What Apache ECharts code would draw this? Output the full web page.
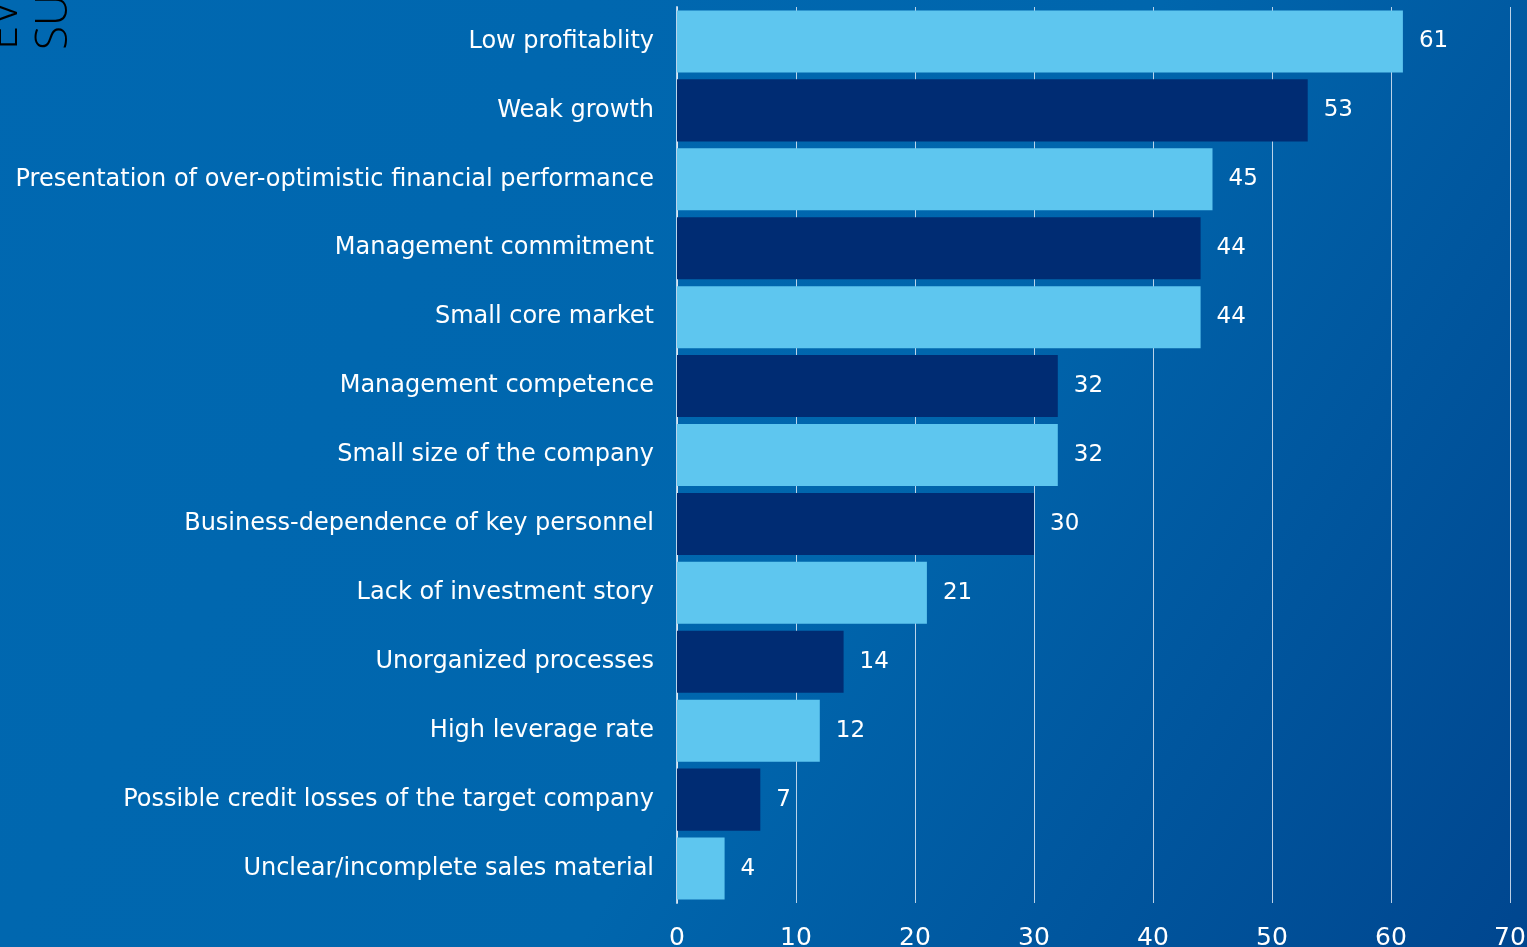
<!DOCTYPE html>
<html>
<head>
<meta charset="utf-8">
<title>Reasons</title>
<script src="https://cdn.jsdelivr.net/npm/echarts@6/dist/echarts.min.js"></script>
<style>
  html, body { margin: 0; padding: 0; }
  #main { width: 1527px; height: 947px; }
</style>
</head>
<body>
<div id="main"></div>
<script>
// categories, top to bottom
var categories = [
  'Low profitablity',
  'Weak growth',
  'Presentation of over-optimistic financial performance',
  'Management commitment',
  'Small core market',
  'Management competence',
  'Small size of the company',
  'Business-dependence of key personnel',
  'Lack of investment story',
  'Unorganized processes',
  'High leverage rate',
  'Possible credit losses of the target company',
  'Unclear/incomplete sales material'
];
var values = [61, 53, 45, 44, 44, 32, 32, 30, 21, 14, 12, 7, 4];
var xTicks = [0, 10, 20, 30, 40, 50, 60, 70];

var light = '#5ec6ef';
var dark = '#002c73';

var chart = echarts.init(document.getElementById('main'));
chart.setOption({
  backgroundColor: {
    type: 'linear', x: 0, y: 0, x2: 1, y2: 1,
    colorStops: [
      { offset: 0, color: '#0068b1' },
      { offset: 0.55, color: '#0066ad' },
      { offset: 1, color: '#00468f' }
    ]
  },
  animation: false,
  textStyle: { fontFamily: 'DejaVu Sans' },
  grid: { left: 677, right: 17, top: 7, bottom: 44, outerBoundsMode: 'none', containLabel: false },
  xAxis: {
    type: 'value',
    min: xTicks[0],
    max: xTicks[xTicks.length - 1],
    interval: 10,
    axisLine: { show: false },
    axisTick: { show: false },
    splitLine: { show: true, lineStyle: { color: 'rgba(220,232,245,0.85)', width: 1 } },
    axisLabel: { color: '#ffffff', fontSize: 25, margin: 23 }
  },
  yAxis: {
    type: 'category',
    inverse: true,
    data: categories,
    axisLine: { show: true, lineStyle: { color: 'rgba(220,232,245,0.85)', width: 2 } },
    axisTick: { show: false },
    axisLabel: { color: '#ffffff', fontSize: 24, margin: 23, padding: [2, 0, 0, 0] }
  },
  series: [{
    type: 'bar',
    data: values,
    barCategoryGap: '10%',
    itemStyle: {
      color: function (p) { return p.dataIndex % 2 === 0 ? light : dark; }
    },
    label: {
      show: true,
      position: 'right',
      distance: 16,
      color: '#ffffff',
      fontSize: 23,
      padding: [2, 0, 0, 0]
    }
  }],
  graphic: [
    {
      type: 'text', x: 26, y: 50, rotation: Math.PI / 2,
      style: { text: 'EVERY', fill: '#000000', fontSize: 44, fontFamily: 'Open Sans', fontWeight: 300, align: 'left', verticalAlign: 'bottom' }
    },
    {
      type: 'text', x: 76, y: 50, rotation: Math.PI / 2,
      style: { text: 'SURVEY', fill: '#000000', fontSize: 44, fontFamily: 'Open Sans', fontWeight: 300, align: 'left', verticalAlign: 'bottom' }
    }
  ]
});
</script>
</body>
</html>
